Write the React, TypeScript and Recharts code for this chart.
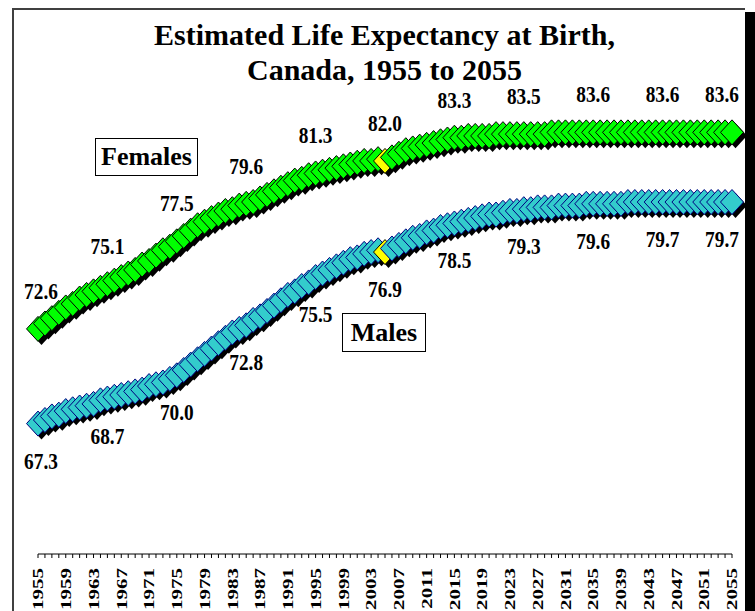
import React from "react";
import { LineChart, Line, XAxis, YAxis, LabelList } from "recharts";

// one point per year, 1955 to 2055
const years = Array.from({ length: 101 }, (_, i) => 1955 + i);

const females = [
  72.6, 72.9, 73.2, 73.5, 73.8, 74.0, 74.3, 74.5, 74.7, 74.9,
  75.1, 75.3, 75.5, 75.7, 75.9, 76.2, 76.4, 76.7, 77.0, 77.2,
  77.5, 77.8, 78.1, 78.4, 78.6, 78.8, 79.0, 79.2, 79.3, 79.5,
  79.6, 79.7, 79.9, 80.1, 80.3, 80.5, 80.7, 80.9, 81.0, 81.2,
  81.3, 81.4, 81.5, 81.6, 81.7, 81.8, 81.9, 82.0, 82.0, 82.1,
  82.0, 82.2, 82.4, 82.6, 82.7, 82.8, 82.9, 83.0, 83.1, 83.2,
  83.3, 83.3, 83.4, 83.4, 83.4, 83.4, 83.5, 83.5, 83.5, 83.5,
  83.5, 83.5, 83.5, 83.5, 83.6, 83.6, 83.6, 83.6, 83.6, 83.6,
  83.6, 83.6, 83.6, 83.6, 83.6, 83.6, 83.6, 83.6, 83.6, 83.6,
  83.6, 83.6, 83.6, 83.6, 83.6, 83.6, 83.6, 83.6, 83.6, 83.6,
  83.6,
];

const males = [
  67.3, 67.5, 67.7, 67.8, 68.0, 68.1, 68.2, 68.3, 68.4, 68.6,
  68.7, 68.8, 68.9, 69.0, 69.1, 69.2, 69.4, 69.5, 69.6, 69.8,
  70.0, 70.3, 70.6, 70.9, 71.2, 71.5, 71.8, 72.1, 72.4, 72.6,
  72.8, 73.1, 73.3, 73.6, 73.9, 74.2, 74.5, 74.7, 75.0, 75.2,
  75.5, 75.7, 75.9, 76.1, 76.3, 76.5, 76.6, 76.8, 76.9, 77.0,
  76.9, 77.1, 77.3, 77.5, 77.7, 77.8, 78.0, 78.1, 78.3, 78.4,
  78.5, 78.6, 78.7, 78.8, 78.9, 79.0, 79.0, 79.1, 79.2, 79.2,
  79.3, 79.3, 79.4, 79.4, 79.4, 79.5, 79.5, 79.5, 79.5, 79.6,
  79.6, 79.6, 79.6, 79.6, 79.6, 79.7, 79.7, 79.7, 79.7, 79.7,
  79.7, 79.7, 79.7, 79.7, 79.7, 79.7, 79.7, 79.7, 79.7, 79.7,
  79.7,
];

const labelYears = [1955, 1965, 1975, 1985, 1995, 2005, 2015, 2025, 2035, 2045, 2055];
const tickLabelYears = years.filter((y) => (y - 1955) % 4 === 0);
const splitYear = 2005;

const data = years.map((year, i) => ({ year, females: females[i], males: males[i] }));

const FONT = '"Liberation Serif", "Times New Roman", serif';

function diamondDot(fill: string, stroke: string) {
  return (props: any) => {
    const { cx, cy, payload, index } = props;
    if (cx == null || cy == null) return <g key={`e-${index}`} />;
    const split = payload.year === splitYear;
    const w = 11.5;
    const h = 12.5;
    const off = 3.5;
    const pts = (dx: number, dy: number) =>
      `${cx + dx},${cy - h + dy} ${cx + w + dx},${cy + dy} ${cx + dx},${cy + h + dy} ${cx - w + dx},${cy + dy}`;
    return (
      <g key={`d-${index}`}>
        <polygon points={pts(off, off)} fill="#000000" />
        <polygon
          points={pts(0, 0)}
          fill={split ? "#FFFF00" : fill}
          stroke={split ? "#000000" : stroke}
          strokeWidth={1}
        />
      </g>
    );
  };
}

function valueLabel(dy: number) {
  return (props: any) => {
    const { x, y, value, index } = props;
    const year = years[index];
    if (!labelYears.includes(year)) return null;
    const dx = year === 1955 ? 3 : year === 2055 ? -10 : 0;
    return (
      <text
        transform={`translate(${x + dx},${y + dy}) scale(0.92,1.12)`}
        textAnchor="middle"
        fontFamily={FONT}
        fontWeight="bold"
        fontSize={21}
        fill="#000"
      >
        {Number(value).toFixed(1)}
      </text>
    );
  };
}

function YearTick(props: any) {
  const { x, y, payload } = props;
  if (!tickLabelYears.includes(payload.value)) return <g />;
  return (
    <text
      transform={`translate(${x},${y + 6}) rotate(-90) scale(1.4,1)`}
      textAnchor="end"
      dy="0.35em"
      fontFamily={FONT}
      fontWeight="bold"
      fontSize={15}
      fill="#000"
    >
      {payload.value}
    </text>
  );
}

export default function App() {
  return (
    <div
      style={{
        position: "absolute",
        left: 0,
        top: 0,
        width: 755,
        height: 611,
        overflow: "hidden",
        background: "#fff",
      }}
    >
      <div style={{ position: "absolute", left: 12, top: 8, width: 733, height: 700, borderLeft: "2px solid #404040", borderTop: "2px solid #404040", boxSizing: "border-box" }} />
      <div style={{ position: "absolute", left: 745, top: 12, width: 10, height: 700, background: "#000" }} />
      <div
        style={{
          position: "absolute",
          left: 12,
          top: 17,
          width: 745,
          textAlign: "center",
          fontFamily: FONT,
          fontWeight: "bold",
          fontSize: 30,
          lineHeight: "35px",
        }}
      >
        Estimated Life Expectancy at Birth,
        <br />
        Canada, 1955 to 2055
      </div>
      <div style={{ position: "absolute", left: 0, top: 0 }}>
        <LineChart
          width={755}
          height={611}
          data={data}
          margin={{ top: 18, right: 23, bottom: 0, left: 38 }}
        >
          <XAxis
            dataKey="year"
            type="number"
            domain={[1955, 2055]}
            ticks={years}
            interval={0}
            height={57}
            tickSize={4}
            tickMargin={4}
            axisLine={{ stroke: "#000" }}
            tickLine={{ stroke: "#000" }}
            tick={<YearTick />}
          />
          <YAxis type="number" domain={[60, 90]} hide width={0} />
          <Line
            dataKey="females"
            stroke="none"
            dot={diamondDot("#00FF00", "#000000")}
            activeDot={false}
            isAnimationActive={false}
          >
            <LabelList dataKey="females" content={valueLabel(-30)} />
          </Line>
          <Line
            dataKey="males"
            stroke="none"
            dot={diamondDot("#33CCCC", "#000080")}
            activeDot={false}
            isAnimationActive={false}
          >
            <LabelList dataKey="males" content={valueLabel(45)} />
          </Line>
        </LineChart>
      </div>
      <div style={{ position: "absolute", left: 95, top: 138, width: 103, height: 38, border: "1px solid #000", boxSizing: "border-box", background: "#fff", fontFamily: FONT, fontWeight: "bold", fontSize: 26, lineHeight: "36px", textAlign: "center" }}>
        Females
      </div>
      <div style={{ position: "absolute", left: 342, top: 313, width: 84, height: 39, border: "1px solid #000", boxSizing: "border-box", background: "#fff", fontFamily: FONT, fontWeight: "bold", fontSize: 26, lineHeight: "37px", textAlign: "center" }}>
        Males
      </div>
    </div>
  );
}
